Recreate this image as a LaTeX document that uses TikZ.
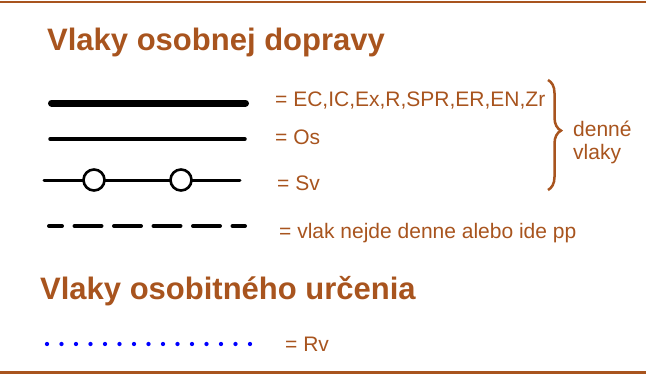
\documentclass[tikz,border=0pt]{standalone}
\usepackage{fontspec}
\setmainfont{Liberation Sans}
\usetikzlibrary{positioning,decorations.pathreplacing}
\definecolor{rust}{RGB}{168,84,30}

\begin{document}
\begin{tikzpicture}[x=1pt, y=-1pt,
        heading/.style={anchor=base west, inner sep=0pt, text=rust, font=\fontsize{31}{37}\selectfont\bfseries},
        legend/.style={anchor=base west, inner sep=0pt, text=rust, font=\fontsize{21}{25}\selectfont},
        sample/.style={line cap=round, black},
        halt/.style={circle, draw, fill=white, line width=2.6pt, minimum size=21pt, inner sep=0pt},
        brace/.style={rust, line width=2.5pt, decorate, decoration={brace, amplitude=13pt, aspect=0.46}}
    ]
    \useasboundingbox (0,0) rectangle (646,375);

    % frame lines
    \draw[rust, line width=2.5pt] (0,2) -- (646,2);
    \draw[rust, line width=3pt] (0,372) -- (646,372);

    % headings
    \node[heading] (osobne) at (47,50) {Vlaky osobnej dopravy};
    \node[heading] (osobitne) at (40,299) {Vlaky osobitného určenia};

    % line samples
    \draw[sample, line width=7pt] (51.5,103) -- (245.5,103);
    \draw[sample, line width=3.5pt] (50,139) -- (245,139);
    \draw[sample, line width=3pt] (44,180) -- (240,180);
    \node[halt] (halt1) at (94,180) {};
    \node[halt] (halt2) at (181,180) {};
    \draw[sample, line width=4pt, dash pattern=on 27pt off 12.5pt, dash phase=14pt] (49,226) -- (245,226);
    \draw[blue, line width=4.3pt, line cap=round, dash pattern=on 0pt off 14.5pt] (47,344) -- (250,344);

    % labels
    \node[legend] (rychle) at (275,106) {= EC,IC,Ex,R,SPR,ER,EN,Zr};
    \node[legend] (os) at (275,144) {= Os};
    \node[legend] (sv) at (277,190) {= Sv};
    \node[legend] (pp) at (279,238) {= vlak nejde denne alebo ide pp};
    \node[legend] (rv) at (285,351) {= Rv};

    % brace over the daily trains
    \coordinate (btop) at (548,80);
    \coordinate (bbot) at (548,190);
    \draw[brace] (btop) -- (bbot);
    \node[legend, anchor=west, align=left, font=\fontsize{21}{23}\selectfont] (denne) at (573,142) {denné\\vlaky};
\end{tikzpicture}
\end{document}
